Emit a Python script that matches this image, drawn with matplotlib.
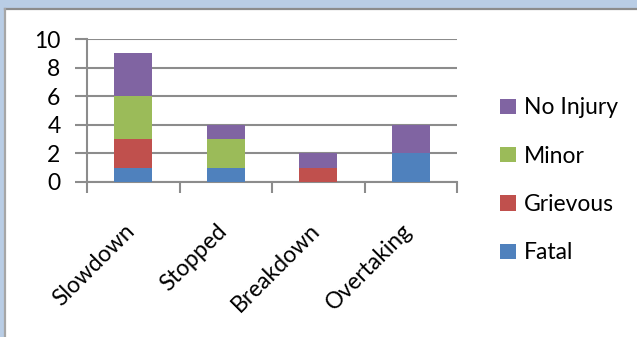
import matplotlib.pyplot as plt
import matplotlib.patches as mpatches
import numpy as np

plt.rcParams['font.family'] = ['Lato', 'DejaVu Sans']

causes = ["Slowdown", "Stopped", "Breakdown", "Overtaking"]
fatal = [1, 1, 0, 2]
grievous = [2, 0, 1, 0]
minor = [3, 2, 0, 0]
no_injury = [3, 1, 1, 2]

series = [("Fatal", fatal, "#4F81BD"),
          ("Grievous", grievous, "#C0504D"),
          ("Minor", minor, "#9BBB59"),
          ("No Injury", no_injury, "#8064A2")]

W, H = 637, 337
fs = 16.5
fig = plt.figure(figsize=(W / 100, H / 100), dpi=100)
fig.patch.set_facecolor("#B9CDE5")

# white chart area with grey frame on top and left
fig.add_artist(mpatches.Rectangle((5 / W, 0), 1, 1 - 9 / H, transform=fig.transFigure,
                                  facecolor="white", edgecolor="none", zorder=0))
fig.add_artist(plt.Line2D([5 / W, 1], [1 - 9 / H, 1 - 9 / H], transform=fig.transFigure,
                          color="#8C8C8C", lw=1.6, zorder=1))
fig.add_artist(plt.Line2D([5 / W, 5 / W], [0, 1 - 9 / H], transform=fig.transFigure,
                          color="#A6A6A6", lw=1.6, zorder=1))

ax = fig.add_axes([87 / W, 1 - 182 / H, 370 / W, 143 / H])
ax.set_facecolor("none")

x = np.arange(len(causes))
bottom = np.zeros(len(causes))
handles = []
for name, vals, col in series:
    h = ax.bar(x, vals, width=0.41, bottom=bottom, color=col, label=name, zorder=3)
    handles.append(h)
    bottom += np.array(vals)

ax.set_xlim(-0.5, len(causes) - 0.5)
ax.set_ylim(0, 10)
ax.set_yticks(range(0, 11, 2))
ax.yaxis.grid(True, color="#8C8C8C", lw=1.5, zorder=0)
ax.set_axisbelow(True)

for s in ["top", "right"]:
    ax.spines[s].set_visible(False)
for s in ["left", "bottom"]:
    ax.spines[s].set_color("#8C8C8C")
    ax.spines[s].set_linewidth(1.5)

# ticks on category boundaries, labels rotated under the centres
ax.set_xticks(np.arange(len(causes) + 1) - 0.5)
ax.set_xticklabels([])
ax.tick_params(axis="x", length=8, width=1.5, color="#8C8C8C")
ax.tick_params(axis="y", length=9, width=1.5, color="#8C8C8C", labelsize=fs, pad=10)
for i, c in enumerate(causes):
    ax.text(i - 0.10, -2.66, c, rotation=45, ha="right", va="top",
            rotation_mode="anchor", fontsize=fs, transform=ax.transData)

leg = fig.legend(handles[::-1], [s[0] for s in series][::-1],
                 loc="upper left", bbox_to_anchor=(489 / W, 1 - 86 / H),
                 frameon=False, fontsize=fs, handlelength=0.66, handleheight=0.66,
                 handletextpad=0.35, labelspacing=1.19, borderpad=0)

fig.savefig("out.png", dpi=100)
